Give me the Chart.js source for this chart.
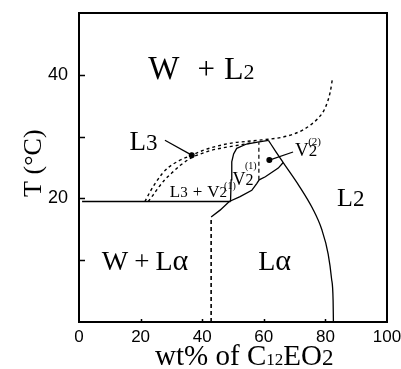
<!DOCTYPE html>
<html>
<head>
<meta charset="utf-8">
<script src="https://cdn.jsdelivr.net/npm/chart.js@4.4.0/dist/chart.umd.min.js"></script>
<style>
  html, body { margin: 0; padding: 0; background: #fff; }
  #wrap { width: 401px; height: 369px; }
</style>
</head>
<body>
<div id="wrap"><canvas id="phase" width="401" height="369"></canvas></div>
<script>
// C12EO2 / water phase boundaries: composition (wt%) against T (°C)
const l3UpperX = [21.4, 23.0, 24.7, 27.0, 29.0, 32.5, 36.6, 41.0, 45.2, 50.0, 54.0, 58.0, 62.0, 66.0, 69.6, 72.8, 75.5, 77.5, 79.5, 80.8, 81.6, 82.3];
const l3UpperT = [19.5, 21.0, 22.4, 24.0, 25.0, 26.1, 27.0, 27.9, 28.5, 29.0, 29.2, 29.4, 29.6, 29.9, 30.4, 31.1, 32.0, 32.9, 34.2, 35.8, 37.3, 39.4];

const l3LowerX = [22.5, 24.0, 25.7, 28.0, 30.1, 33.0, 36.6, 40.0, 43.1, 48.0, 53.9, 57.0];
const l3LowerT = [19.5, 20.5, 21.7, 23.1, 24.1, 25.4, 26.6, 27.3, 27.8, 28.3, 28.8, 29.1];

const eutecticX = [1.0, 49.2];
const eutecticT = [19.5, 19.5];

const v2LeftX = [49.2, 49.4, 49.6, 50.2, 51.2, 54.4, 58.0, 61.5];
const v2LeftT = [19.5, 23.0, 25.9, 27.2, 28.1, 28.8, 29.1, 29.4];

const lamTopX = [42.9, 45.8, 48.8, 52.3, 56.1, 57.7, 58.5, 60.5, 64.7, 66.3];
const lamTopT = [17.0, 18.1, 19.5, 20.3, 21.3, 22.4, 23.0, 23.5, 24.9, 25.8];

const lamRightX = [61.5, 64.0, 66.3, 71.5, 75.8, 78.8, 80.9, 82.0, 82.5, 82.6];
const lamRightT = [29.4, 27.5, 25.8, 22.0, 18.4, 15.0, 11.0, 7.0, 3.5, 0];

const lamLeftX = [42.9, 42.9];
const lamLeftT = [0, 17.0];

const v2SplitX = [58.4, 58.4];
const v2SplitT = [23.0, 29.1];

const l3PointerX = [27.9, 36.6];
const l3PointerT = [29.4, 27.0];
const v2PointerX = [69.5, 61.8];
const v2PointerT = [27.5, 26.2];

const xTickValues = [0, 20, 40, 60, 80, 100];
const yTickLabels = [20, 40];
const yTickMarks = [10, 20, 30, 40];
const xTickMarks = [20, 40, 60, 80];

// region names; each run is [text, font px, gap before in px]
const regionLabels = [
  { x: 22.5, t: 39.4, runs: [['W', 33, 0], ['+', 31, 18], ['L', 32, 9], ['2', 22, 0]] },
  { x: 16.4, t: 27.9, runs: [['L', 27, 0], ['3', 23, 0]] },
  { x: 29.5, t: 20.3, runs: [['L', 17, 0], ['3', 15, 0], ['+', 17, 5], ['V', 17, 5], ['2', 15, 0]] },
  { x: 47.1, t: 21.6, runs: [['(1)', 10, 0]] },
  { x: 49.8, t: 22.2, runs: [['V', 18, 0], ['2', 16, 0]] },
  { x: 53.9, t: 24.8, runs: [['(1)', 10, 0]] },
  { x: 70.1, t: 26.9, runs: [['V', 19, 0], ['2', 17, 0]] },
  { x: 74.4, t: 28.6, runs: [['(2)', 11, 0]] },
  { x: 83.8, t: 18.7, runs: [['L', 26, 0], ['2', 23, 0]] },
  { x: 7.4, t: 8.4, runs: [['W', 28, 0], ['+', 27, 6], ['L', 28, 6], ['\u03b1', 30, 0]] },
  { x: 58.2, t: 8.4, runs: [['L', 28, 0], ['\u03b1', 30, 0]] }
];

const SERIF = '"Liberation Serif", "DejaVu Serif", serif';
const SANS = '"Liberation Sans", Arial, sans-serif';

function series(xs, ts, extra) {
  return Object.assign({
    data: xs.map((x, i) => ({ x: x, y: ts[i] })),
    showLine: true,
    borderColor: '#000',
    backgroundColor: '#000',
    borderWidth: 1.3,
    pointRadius: 0,
    fill: false,
    tension: 0
  }, extra);
}

const datasets = [
  series(l3UpperX, l3UpperT, { borderDash: [3, 3], cubicInterpolationMode: 'monotone', borderWidth: 1.4 }),
  series(l3LowerX, l3LowerT, { borderDash: [3, 3], cubicInterpolationMode: 'monotone', borderWidth: 1.4 }),
  series(eutecticX, eutecticT),
  series(v2LeftX, v2LeftT),
  series(lamTopX, lamTopT),
  series(lamRightX, lamRightT, { cubicInterpolationMode: 'monotone' }),
  series(lamLeftX, lamLeftT, { borderDash: [4, 3], borderWidth: 1.6 }),
  series(v2SplitX, v2SplitT, { borderDash: [4, 3], borderWidth: 1.2 }),
  series(l3PointerX, l3PointerT, { borderWidth: 1.2, pointRadius: [0, 2.4] }),
  series(v2PointerX, v2PointerT, { borderWidth: 1.2, pointRadius: [0, 2.4] })
];

function drawRuns(ctx, x, y, runs) {
  let cx = x;
  for (const [txt, size, gap] of runs) {
    cx += gap;
    ctx.font = size + 'px ' + SERIF;
    ctx.fillText(txt, cx, y);
    cx += ctx.measureText(txt).width;
  }
  return cx;
}

function runsWidth(ctx, runs) {
  let w = 0;
  for (const [txt, size, gap] of runs) {
    ctx.font = size + 'px ' + SERIF;
    w += gap + ctx.measureText(txt).width;
  }
  return w;
}

// keep the plot box where the layout padding puts it
function fixBox(width, height) {
  return (s) => {
    if (width !== null) s.width = width;
    if (height !== null) s.height = height;
    s.paddingLeft = s.paddingRight = s.paddingTop = s.paddingBottom = 0;
  };
}

// frame, inward tick marks, region names and axis titles
const decorations = {
  id: 'decorations',
  afterDraw(chart) {
    const { ctx, chartArea: a, scales } = chart;
    const xs = scales.x, ys = scales.y;
    ctx.save();
    ctx.strokeStyle = '#000';
    ctx.fillStyle = '#000';

    ctx.lineWidth = 2;
    ctx.strokeRect(a.left, a.top, a.right - a.left, a.bottom - a.top);

    ctx.lineWidth = 1.5;
    ctx.beginPath();
    for (const v of yTickMarks) {
      const py = Math.round(ys.getPixelForValue(v)) + 0.5;
      ctx.moveTo(a.left, py);
      ctx.lineTo(a.left + 6, py);
    }
    for (const v of xTickMarks) {
      const px = Math.round(xs.getPixelForValue(v)) + 0.5;
      ctx.moveTo(px, a.bottom);
      ctx.lineTo(px, a.bottom - 3);
    }
    ctx.stroke();

    ctx.textAlign = 'left';
    ctx.textBaseline = 'alphabetic';
    for (const lab of regionLabels) {
      drawRuns(ctx, xs.getPixelForValue(lab.x), ys.getPixelForValue(lab.t), lab.runs);
    }

    // x title with subscripted chain length
    const xTitle = [['wt% of C', 29, 0], ['12', 17, 0], ['EO', 29, 0], ['2', 23, 0]];
    drawRuns(ctx, xs.getPixelForValue(24.7), a.bottom + 43, xTitle);

    // y title, reading upwards
    const yTitle = [['T (\u00b0C)', 26, 0]];
    ctx.translate(41, ys.getPixelForValue(25.7));
    ctx.rotate(-Math.PI / 2);
    drawRuns(ctx, -runsWidth(ctx, yTitle) / 2, 0, yTitle);
    ctx.restore();
  }
};

new Chart(document.getElementById('phase'), {
  type: 'scatter',
  data: { datasets: datasets },
  options: {
    responsive: false,
    animation: false,
    layout: { padding: { top: 13, right: 14, left: 0, bottom: 0 } },
    plugins: { legend: { display: false }, tooltip: { enabled: false } },
    scales: {
      x: {
        type: 'linear', min: 0, max: 100,
        afterFit: fixBox(null, 47),
        afterBuildTicks: (s) => { s.ticks = xTickValues.map(v => ({ value: v })); },
        grid: { display: false, drawTicks: false },
        border: { display: false },
        ticks: { padding: 5, color: '#000', maxRotation: 0, autoSkip: false,
                 font: { family: SANS, size: 17 } }
      },
      y: {
        type: 'linear', min: 0, max: 50,
        afterFit: fixBox(79, null),
        afterBuildTicks: (s) => { s.ticks = yTickLabels.map(v => ({ value: v })); },
        grid: { display: false, drawTicks: false },
        border: { display: false },
        ticks: { padding: 11, color: '#000',
                 font: { family: SANS, size: 18 } }
      }
    }
  },
  plugins: [decorations]
});
</script>
</body>
</html>
